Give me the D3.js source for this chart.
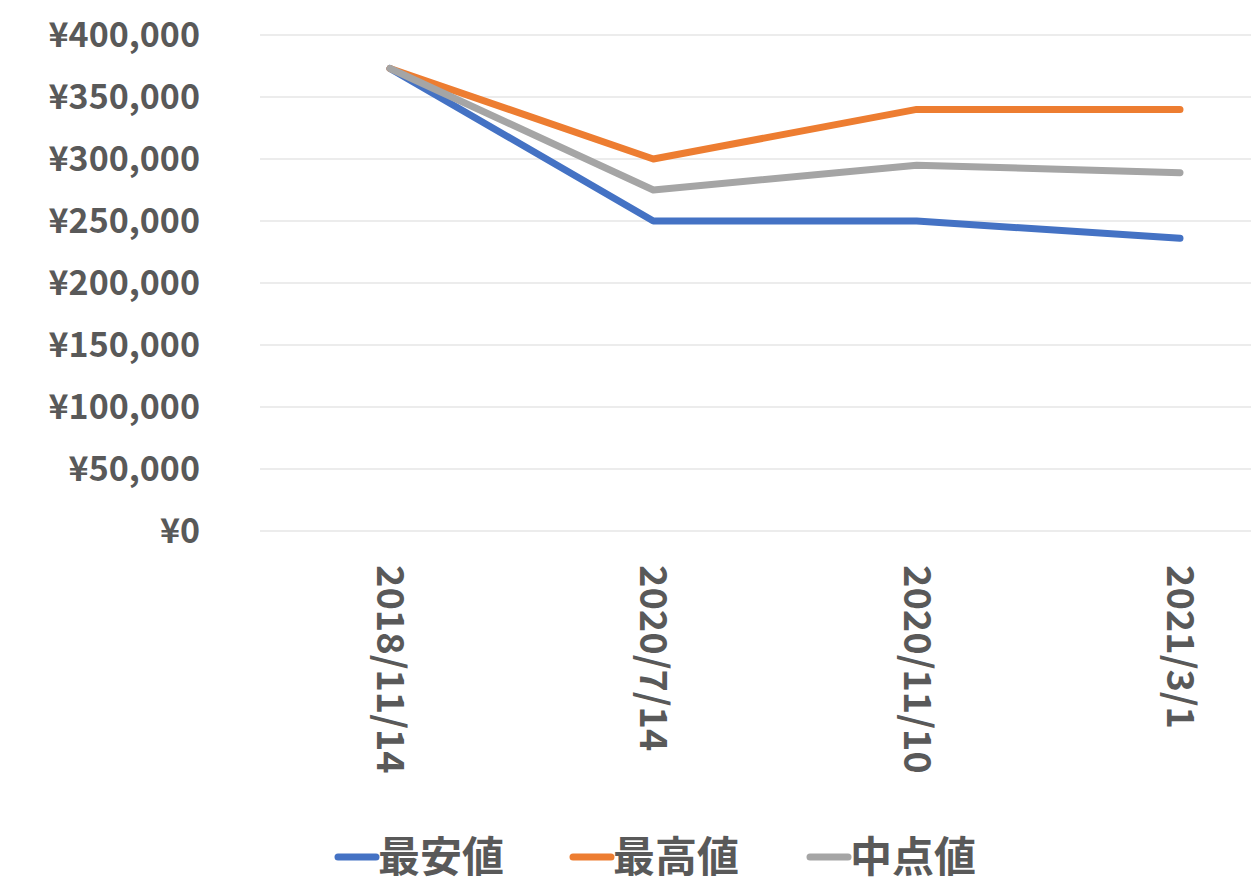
<!DOCTYPE html>
<html><head><meta charset="utf-8">
<script src="https://cdn.jsdelivr.net/npm/d3@7"></script>
<style>body{margin:0;background:#fff}</style>
</head><body>
<svg id="c" width="1251" height="895"></svg>
<script>
const dates = ['2018/11/14', '2020/7/14', '2020/11/10', '2021/3/1'];
const seriesNames = ['最安値', '最高値', '中点値'];
const minVals = [373000, 250000, 250000, 236000];
const maxVals = [373000, 300000, 340000, 340000];
const midVals = [373000, 275000, 295000, 289000];
const colors = ['#4472c4', '#ed7d31', '#a5a5a5'];
const yTicks = [0, 50000, 100000, 150000, 200000, 250000, 300000, 350000, 400000];

const svg = d3.select('#c');
const font = "'Noto Sans CJK JP', 'Liberation Sans', sans-serif";
const x = d3.scalePoint().domain(dates).range([390, 1180]);
const y = d3.scaleLinear().domain([0, 400000]).range([531, 35]);

svg.append('g').selectAll('line').data(yTicks).join('line')
    .attr('x1', 260).attr('x2', 1251)
    .attr('y1', d => y(d)).attr('y2', d => y(d))
    .attr('stroke', '#d9d9d9').attr('stroke-width', 1);

svg.append('g').selectAll('text').data(yTicks).join('text')
    .attr('x', 200).attr('y', d => y(d) + 12)
    .attr('text-anchor', 'end')
    .attr('font-family', font).attr('font-weight', 700).attr('font-size', 34)
    .attr('fill', '#595959')
    .text(d => '¥' + d3.format(',')(d));

svg.append('g').selectAll('text').data(dates).join('text')
    .attr('transform', d => `translate(${x(d) - 13},565) rotate(90)`)
    .attr('font-family', font).attr('font-weight', 700).attr('font-size', 38)
    .attr('fill', '#595959')
    .text(d => d);

const line = d3.line().x((d, i) => x(dates[i])).y(d => y(d));
[minVals, maxVals, midVals].forEach((vals, k) => {
    svg.append('path').datum(vals)
        .attr('d', line).attr('fill', 'none')
        .attr('stroke', colors[k]).attr('stroke-width', 7)
        .attr('stroke-linejoin', 'round').attr('stroke-linecap', 'round');
});

const legendX = [338, 573, 810];
const lg = svg.append('g').selectAll('g').data(seriesNames).join('g')
    .attr('transform', (d, i) => `translate(${legendX[i]},857)`);
lg.append('line').attr('x1', 0).attr('x2', 38).attr('y1', 0).attr('y2', 0)
    .attr('stroke', (d, i) => colors[i]).attr('stroke-width', 7).attr('stroke-linecap', 'round');
lg.append('text').attr('x', 40).attr('y', 15)
    .attr('font-family', font).attr('font-weight', 700).attr('font-size', 42)
    .attr('fill', '#595959').text(d => d);
</script>
</body></html>
